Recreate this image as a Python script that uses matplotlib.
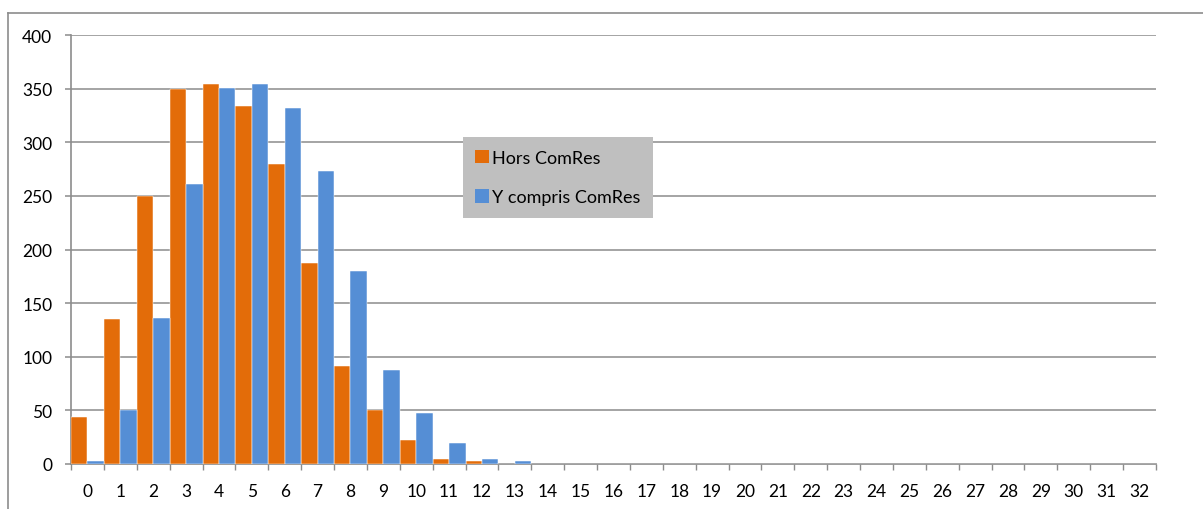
import matplotlib
matplotlib.use("Agg")
import matplotlib.pyplot as plt
from matplotlib.patches import Patch
from matplotlib.lines import Line2D
import numpy as np

plt.rcParams['font.family'] = ['Lato', 'DejaVu Sans']

categories = [str(i) for i in range(33)]
hors_comres = [44, 135, 250, 350, 354, 334, 280, 187, 91, 50, 22, 5, 3] + [0] * 20
y_compris_comres = [3, 50, 136, 261, 351, 354, 332, 273, 180, 88, 48, 20, 5, 3] + [0] * 19
series_labels = ["Hors ComRes", "Y compris ComRes"]
yticks = [0, 50, 100, 150, 200, 250, 300, 350, 400]

orange = "#E36C09"
blue = "#558ED5"
grid_grey = "#8C8C8C"

fig = plt.figure(figsize=(12.03, 5.10), dpi=100)
W, H = 1203, 510

# outer chart-area frame (left and top edges)
fig.add_artist(Line2D([8 / W, 8 / W], [0, 1 - 14 / H], color=grid_grey, lw=1.2))
fig.add_artist(Line2D([8 / W, 1], [1 - 14 / H, 1 - 14 / H], color=grid_grey, lw=1.2))

ax = fig.add_axes([71 / W, 45 / H, (1156 - 71) / W, (465 - 36) / H])

x = np.arange(len(categories))
bw = 0.5
ax.bar(x - bw / 2, hors_comres, width=bw, color=orange, edgecolor="white", linewidth=0.35, zorder=3)
ax.bar(x + bw / 2, y_compris_comres, width=bw, color=blue, edgecolor="white", linewidth=0.35, zorder=3)

ax.set_xlim(-0.5, len(categories) - 0.5)
ax.set_ylim(0, 400)

ax.set_yticks(yticks)
ax.yaxis.grid(True, color=grid_grey, linewidth=1.1, zorder=0)
ax.set_axisbelow(True)

ax.set_xticks(x)
ax.set_xticklabels(categories)
ax.set_xticks(np.arange(-0.5, len(categories), 1.0), minor=True)
ax.tick_params(axis="x", which="major", length=0, pad=14, labelsize=12.5, labelcolor="#000000")
ax.tick_params(axis="x", which="minor", length=4.5, width=1.0, color=grid_grey, direction="out")
ax.tick_params(axis="y", which="major", length=4.5, width=1.1, color=grid_grey, pad=9,
               labelsize=12.5, labelcolor="#000000")

for side in ("top", "right"):
    ax.spines[side].set_visible(False)
for side in ("left", "bottom"):
    ax.spines[side].set_color(grid_grey)
    ax.spines[side].set_linewidth(1.2)

handles = [Patch(facecolor=orange, edgecolor="none"), Patch(facecolor=blue, edgecolor="none")]
leg = ax.legend(handles, series_labels, loc="upper left", bbox_to_anchor=(0.361, 0.762),
                borderaxespad=0, frameon=True, fancybox=False, fontsize=13,
                handlelength=0.75, handleheight=0.75, handletextpad=0.2,
                labelspacing=1.3, borderpad=0.7)
frame = leg.get_frame()
frame.set_facecolor("#BFBFBF")
frame.set_edgecolor("none")
frame.set_alpha(1)
leg.set_zorder(5)

fig.savefig("out.png", dpi=100)
